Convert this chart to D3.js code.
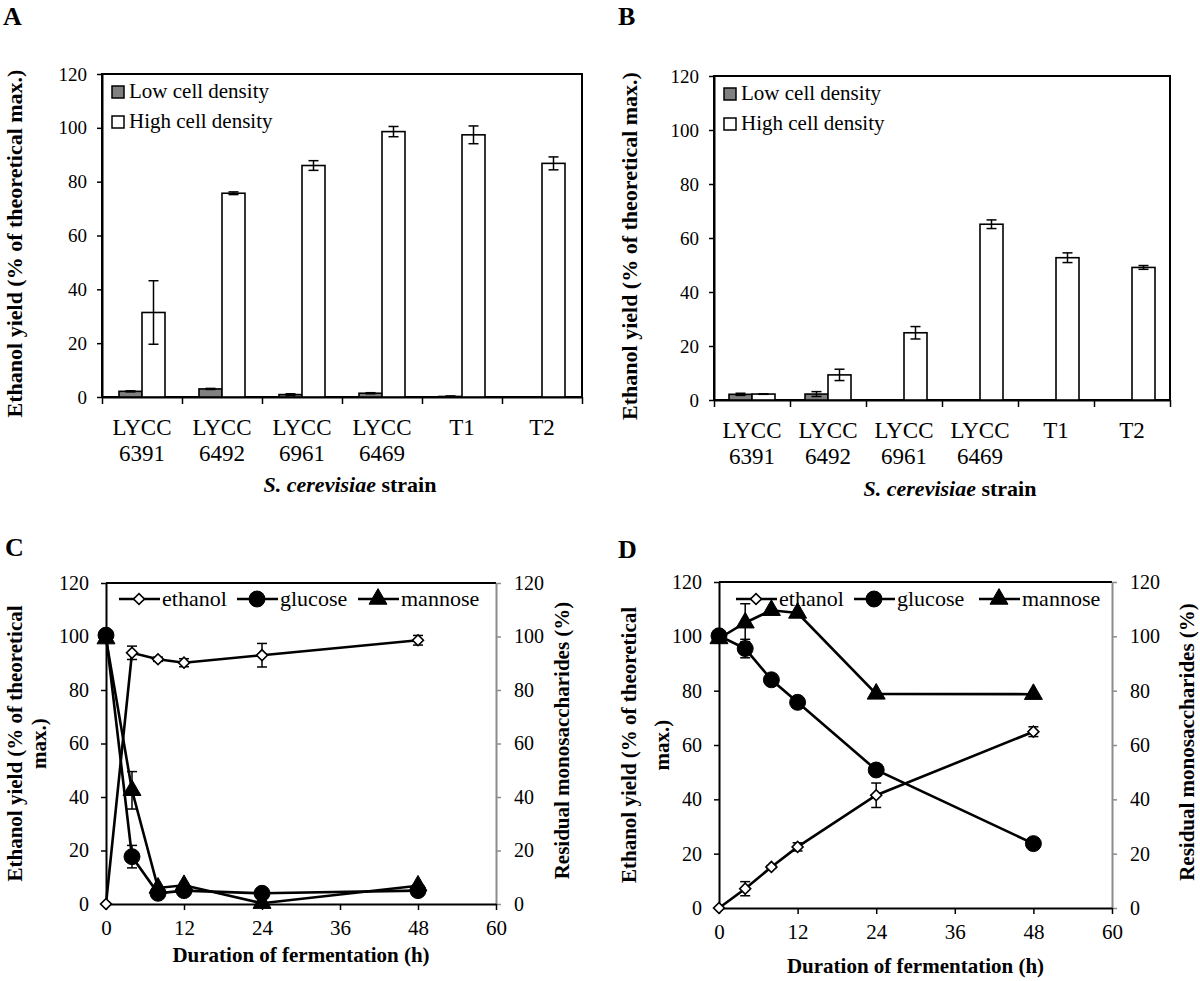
<!DOCTYPE html>
<html>
<head>
<meta charset="utf-8">
<script src="https://cdn.jsdelivr.net/npm/d3@7"></script>
<style>
  body { margin: 0; background: #fff; }
  svg text { font-family: "Liberation Serif", "Times New Roman", serif; fill: #000; }
</style>
</head>
<body>
<svg id="fig" width="1200" height="981"></svg>
<script>
// ---- data ----
const strains = [["LYCC", "6391"], ["LYCC", "6492"], ["LYCC", "6961"], ["LYCC", "6469"], ["T1"], ["T2"]];
const seriesNames = ["Low cell density", "High cell density"];
const yTicks = [0, 20, 40, 60, 80, 100, 120];

// panel A
const lowA = [2.1, 3.0, 0.9, 1.4, 0.2, 0];
const lowAErr = [0.2, 0.2, 0.3, 0.2, 0.2, 0];
const highA = [31.4, 75.7, 86.0, 98.6, 97.4, 86.8];
const highAErr = [11.8, 0.5, 1.8, 1.9, 3.3, 2.4];
// panel B
const lowB = [2.1, 2.2, 0, 0, 0, 0];
const lowBErr = [0.4, 0.9, 0, 0, 0, 0];
const highB = [2.2, 9.3, 24.9, 65.1, 52.7, 49.1];
const highBErr = [0.1, 2.1, 2.3, 1.6, 1.8, 0.7];

// panels C and D (time course)
const hours = [0, 4, 8, 12, 24, 48];
const hourTicks = [0, 12, 24, 36, 48, 60];
const lineNames = ["ethanol", "glucose", "mannose"];

const ethanolC = [0, 93.9, 91.5, 90.2, 93.0, 98.6];
const ethanolCErr = [0, 2.5, 0.8, 1.5, 4.4, 1.8];
const glucoseC = [100.5, 17.7, 4.0, 5.0, 4.0, 5.0];
const glucoseCErr = [0, 4.2, 0, 0, 0, 0];
const mannoseC = [99.2, 42.5, 6.0, 7.0, 0.3, 6.8];
const mannoseCErr = [0, 7.0, 0, 0, 0, 0];

const ethanolD = [0, 7.1, 15.1, 22.5, 41.5, 64.9];
const ethanolDErr = [0, 2.6, 0.5, 1.5, 4.5, 1.8];
const glucoseD = [100.2, 95.5, 84.0, 75.7, 50.8, 23.7];
const glucoseDErr = [0, 3.4, 0, 0, 0, 0];
const mannoseD = [99.2, 105.0, 109.6, 108.6, 78.8, 78.7];
const mannoseDErr = [0, 7.0, 0, 0, 0, 0];

const svg = d3.select("#fig");

function styleAxis(ax, size, color) {
  ax.attr("font-family", "Liberation Serif").attr("font-size", size);
  ax.select(".domain").attr("stroke", color).attr("stroke-width", 2);
  ax.selectAll(".tick line").attr("stroke", color).attr("stroke-width", 1.5);
  ax.selectAll(".tick text").attr("fill", "#000");
}

function errBar(g, x, y, v, e, cap) {
  if (!e) return;
  g.append("line").attr("x1", x).attr("x2", x).attr("y1", y(v + e)).attr("y2", y(v - e))
    .attr("stroke", "#000").attr("stroke-width", 1.5);
  [v + e, v - e].forEach(t => {
    g.append("line").attr("x1", x - cap / 2).attr("x2", x + cap / 2).attr("y1", y(t)).attr("y2", y(t))
      .attr("stroke", "#000").attr("stroke-width", 1.5);
  });
}

function barPanel(p) {
  const g = svg.append("g");
  const x = d3.scaleBand().domain(d3.range(strains.length)).range([p.left, p.right]);
  const xb = d3.scaleLinear().domain([0, strains.length]).range([p.left, p.right]);
  const y = d3.scaleLinear().domain([0, 120]).range([p.bottom, p.top]);
  const inner = d3.scaleBand().domain(seriesNames).range([0, 46]);

  g.append("rect").attr("x", p.left).attr("y", p.top)
    .attr("width", p.right - p.left).attr("height", p.bottom - p.top)
    .attr("fill", "none").attr("stroke", "#000").attr("stroke-width", 2);

  const ya = g.append("g").attr("transform", `translate(${p.left},0)`)
    .call(d3.axisLeft(y).tickValues(yTicks).tickSize(5).tickPadding(10).tickSizeOuter(0));
  styleAxis(ya, 19, "#000");

  const xa = g.append("g").attr("transform", `translate(0,${p.bottom})`)
    .call(d3.axisBottom(xb).tickValues(d3.range(strains.length + 1)).tickFormat("").tickSize(7).tickSizeOuter(0));
  styleAxis(xa, 19, "#000");

  strains.forEach((s, i) => {
    s.forEach((t, j) => {
      g.append("text").attr("x", x(i) + x.bandwidth() / 2).attr("y", p.labelY + j * 26)
        .attr("text-anchor", "middle").attr("font-size", 23).text(t);
    });
  });

  const sets = [[p.low, p.lowErr, "#808080"], [p.high, p.highErr, "#fff"]];
  sets.forEach(([vals, errs, fill], k) => {
    const name = seriesNames[k];
    g.selectAll(null).data(vals).join("rect")
      .attr("x", (d, i) => x(i) + x.bandwidth() / 2 - 23 + inner(name))
      .attr("y", d => y(d))
      .attr("width", inner.bandwidth())
      .attr("height", d => y(0) - y(d))
      .attr("fill", fill).attr("stroke", "#000").attr("stroke-width", 1.6);
    vals.forEach((v, i) => {
      const cx = x(i) + x.bandwidth() / 2 - 23 + inner(name) + inner.bandwidth() / 2;
      errBar(g, cx, y, v, errs[i], 10);
    });
  });

  // legend
  seriesNames.forEach((n, k) => {
    const ly = p.top + 12 + k * 30;
    g.append("rect").attr("x", p.left + 10).attr("y", ly).attr("width", 12).attr("height", 12)
      .attr("fill", k === 0 ? "#808080" : "#fff").attr("stroke", "#000").attr("stroke-width", 1.5);
    g.append("text").attr("x", p.left + 27).attr("y", ly + 12).attr("font-size", 21).text(n);
  });

  // axis titles
  g.append("text").attr("transform", `translate(${p.yTitleX},${(p.top + p.bottom) / 2 + 8}) rotate(-90)`)
    .attr("text-anchor", "middle").attr("font-weight", "bold").attr("font-size", 22)
    .text("Ethanol yield (% of theoretical max.)");
  const xt = g.append("text").attr("x", (p.left + p.right) / 2 + 8).attr("y", p.xTitleY)
    .attr("text-anchor", "middle").attr("font-weight", "bold").attr("font-size", 22);
  xt.append("tspan").attr("font-style", "italic").text("S. cerevisiae");
  xt.append("tspan").text(" strain");

  g.append("text").attr("x", p.letterX).attr("y", 25).attr("font-weight", "bold").attr("font-size", 26).text(p.letter);
}

function linePanel(p) {
  const g = svg.append("g");
  const x = d3.scaleLinear().domain([0, 60]).range([p.left, p.right]);
  const y = d3.scaleLinear().domain([0, 120]).range([p.bottom, p.top]);

  g.append("line").attr("x1", p.left).attr("x2", p.right).attr("y1", p.top).attr("y2", p.top)
    .attr("stroke", "#000").attr("stroke-width", 2);

  const yr = g.append("g").attr("transform", `translate(${p.right},0)`)
    .call(d3.axisRight(y).tickValues(yTicks).tickSize(5).tickPadding(13).tickSizeOuter(0));
  styleAxis(yr, 20, "#8c8c8c");

  const yl = g.append("g").attr("transform", `translate(${p.left},0)`)
    .call(d3.axisLeft(y).tickValues(yTicks).tickSize(5).tickPadding(12).tickSizeOuter(0));
  styleAxis(yl, 20, "#000");

  const xa = g.append("g").attr("transform", `translate(0,${p.bottom})`)
    .call(d3.axisBottom(x).tickValues(hourTicks).tickSize(6).tickPadding(10).tickSizeOuter(0));
  styleAxis(xa, 21, "#000");

  const series = [
    { name: "ethanol", vals: p.ethanol, errs: p.ethanolErr },
    { name: "glucose", vals: p.glucose, errs: p.glucoseErr },
    { name: "mannose", vals: p.mannose, errs: p.mannoseErr }
  ];
  const symbolFor = {
    ethanol: d3.symbol(d3.symbolSquare, 60),
    glucose: d3.symbol(d3.symbolCircle, 200),
    mannose: d3.symbol(d3.symbolTriangle, 140)
  };
  const marker = (sel, name) => sel.append("path").attr("d", symbolFor[name]())
    .attr("fill", name === "ethanol" ? "#fff" : "#000")
    .attr("stroke", "#000").attr("stroke-width", name === "ethanol" ? 1.6 : 1);
  const place = (name, px, py) => name === "ethanol"
    ? `translate(${px},${py}) rotate(45)` : `translate(${px},${py})`;

  const line = d3.line().x((d, i) => x(hours[i])).y(d => y(d));

  series.forEach(s => {
    s.vals.forEach((v, i) => errBar(g, x(hours[i]), y, v, s.errs[i], 10));
  });
  series.forEach(s => {
    g.append("path").datum(s.vals).attr("d", line).attr("fill", "none")
      .attr("stroke", "#000").attr("stroke-width", 2.6);
  });
  ["mannose", "glucose", "ethanol"].forEach(n => {
    const s = series.find(d => d.name === n);
    s.vals.forEach((v, i) => {
      marker(g, n).attr("transform", place(n, x(hours[i]), y(v)));
    });
  });

  // legend
  p.legend.forEach((lx, k) => {
    const n = lineNames[k];
    g.append("line").attr("x1", lx).attr("x2", lx + 41).attr("y1", p.legendY).attr("y2", p.legendY)
      .attr("stroke", "#000").attr("stroke-width", 2.6);
    marker(g, n).attr("transform", place(n, lx + 20, p.legendY));
    g.append("text").attr("x", lx + 43).attr("y", p.legendY + 7).attr("font-size", 22).text(n);
  });

  // titles
  const cy = (p.top + p.bottom) / 2;
  g.append("text").attr("transform", `translate(${p.yTitleX1},${cy}) rotate(-90)`)
    .attr("text-anchor", "middle").attr("font-weight", "bold").attr("font-size", 21)
    .text("Ethanol yield (% of theoretical");
  g.append("text").attr("transform", `translate(${p.yTitleX2},${cy}) rotate(-90)`)
    .attr("text-anchor", "middle").attr("font-weight", "bold").attr("font-size", 21)
    .text("max.)");
  g.append("text").attr("transform", `translate(${p.rTitleX},${cy - 3}) rotate(-90)`)
    .attr("text-anchor", "middle").attr("font-weight", "bold").attr("font-size", 21)
    .text("Residual monosaccharides (%)");
  g.append("text").attr("x", (p.left + p.right) / 2).attr("y", p.xTitleY)
    .attr("text-anchor", "middle").attr("font-weight", "bold").attr("font-size", 21)
    .text("Duration of fermentation (h)");

  g.append("text").attr("x", p.letterX).attr("y", p.letterY).attr("font-weight", "bold").attr("font-size", 26).text(p.letter);
}

barPanel({
  letter: "A", letterX: 3, left: 102, right: 582, top: 74, bottom: 397,
  low: lowA, lowErr: lowAErr, high: highA, highErr: highAErr,
  labelY: 435, xTitleY: 492, yTitleX: 22
});
barPanel({
  letter: "B", letterX: 618, left: 714, right: 1170, top: 76, bottom: 400,
  low: lowB, lowErr: lowBErr, high: highB, highErr: highBErr,
  labelY: 438, xTitleY: 496, yTitleX: 637
});
linePanel({
  letter: "C", letterX: 5, letterY: 556, left: 106, right: 496, top: 583, bottom: 904,
  ethanol: ethanolC, ethanolErr: ethanolCErr, glucose: glucoseC, glucoseErr: glucoseCErr,
  mannose: mannoseC, mannoseErr: mannoseCErr,
  legend: [119, 237, 358], legendY: 599,
  yTitleX1: 22, yTitleX2: 46, rTitleX: 569, xTitleY: 962
});
linePanel({
  letter: "D", letterX: 618, letterY: 558, left: 719, right: 1112, top: 582, bottom: 908,
  ethanol: ethanolD, ethanolErr: ethanolDErr, glucose: glucoseD, glucoseErr: glucoseDErr,
  mannose: mannoseD, mannoseErr: mannoseDErr,
  legend: [736, 854, 979], legendY: 599,
  yTitleX1: 636, yTitleX2: 669, rTitleX: 1194, xTitleY: 973
});
</script>
</body>
</html>
